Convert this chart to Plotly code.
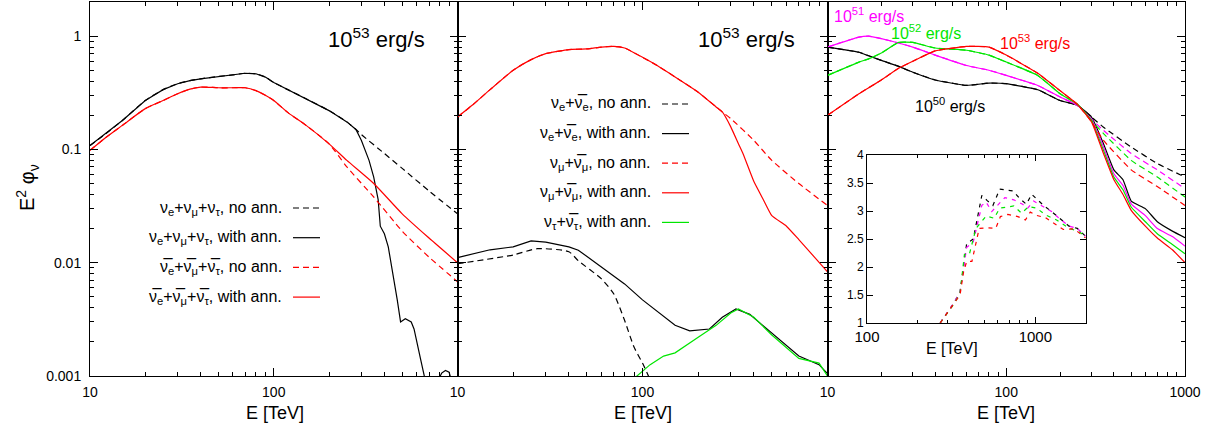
import plotly.graph_objects as go

# ---------------- Panel 1 (10^53 erg/s, flavour sums) ----------------
p1_nu_E = [10, 12, 15, 20, 25, 30, 35, 40, 50, 60, 70, 80, 90, 100, 120, 150, 200, 250, 280]
p1_nu = [0.108, 0.135, 0.18, 0.27, 0.337, 0.38, 0.405, 0.42, 0.44, 0.455, 0.47, 0.465, 0.435, 0.39, 0.335, 0.28, 0.22, 0.175, 0.15]
p1_nu_ann_E = [300, 330, 350, 370, 380, 400, 420, 440, 470, 490, 520, 560, 580, 630, 680, 780, 820, 860, 900, 930]
p1_nu_ann = [0.12, 0.08, 0.057, 0.036, 0.021, 0.018, 0.0138, 0.0091, 0.0047, 0.003, 0.0032, 0.003, 0.0026, 0.0014, 0.0008,
             0.0009, 0.00106, 0.00112, 0.00108, 0.0009]
p1_nu_noann_E = [300, 400, 500, 700, 1000]
p1_nu_noann = [0.135, 0.092, 0.068, 0.043, 0.027]
p1_anu_E = [10, 12, 15, 20, 25, 30, 35, 40, 50, 60, 70, 80, 90, 100, 120, 150, 200]
p1_anu = [0.098, 0.125, 0.163, 0.229, 0.27, 0.31, 0.34, 0.355, 0.35, 0.35, 0.35, 0.33, 0.30, 0.27, 0.21, 0.163, 0.112]
p1_anu_ann_E = [250, 350, 500, 700, 1000]
p1_anu_ann = [0.08, 0.05, 0.027, 0.0165, 0.010]
p1_anu_noann_E = [250, 350, 500, 700, 1000]
p1_anu_noann = [0.07, 0.038, 0.019, 0.0112, 0.0068]

# ---------------- Panel 2 (10^53 erg/s, per flavour) ----------------
p2_mu_E = [10, 12, 15, 20, 25, 30, 40, 50, 60, 70, 80, 100, 120, 150, 200, 250, 270]
p2_mu = [0.193, 0.245, 0.337, 0.50, 0.62, 0.70, 0.76, 0.77, 0.80, 0.81, 0.785, 0.65, 0.55, 0.436, 0.32, 0.237, 0.214]
p2_mu_ann_E = [300, 330, 350, 400, 450, 500, 600, 700, 850, 1000]
p2_mu_ann = [0.158, 0.112, 0.091, 0.052, 0.036, 0.026, 0.021, 0.016, 0.0112, 0.0083]
p2_mu_noann_E = [300, 400, 500, 700, 1000]
p2_mu_noann = [0.187, 0.12, 0.08, 0.05, 0.032]
p2_e_ann_E = [10, 15, 20, 25, 30, 40, 45, 60, 80, 100, 150, 180, 230, 270, 320, 380, 500, 700, 900, 1000]
p2_e_ann = [0.0111, 0.013, 0.0138, 0.0156, 0.0152, 0.0138, 0.0129, 0.0092, 0.0065, 0.0047, 0.0028, 0.0025, 0.0026,
            0.0033, 0.0039, 0.0035, 0.0024, 0.0015, 0.00126, 0.00105]
p2_e_noann_E = [10, 20, 27, 40, 45, 60, 70, 80, 90, 100, 108, 115]
p2_e_noann = [0.0098, 0.0117, 0.0133, 0.0125, 0.0104, 0.0072, 0.0053, 0.0031, 0.0018, 0.0013, 0.00099, 0.0008]
p2_tau_ann_E = [90, 100, 110, 130, 150, 200, 250, 300, 330, 400, 500, 700, 900, 1000]
p2_tau_ann = [0.00095, 0.0011, 0.00126, 0.0015, 0.0016, 0.0022, 0.0028, 0.0036, 0.0039, 0.0033, 0.0023, 0.00143, 0.0013, 0.001]

# ---------------- Panel 3 (luminosity dependence) ----------------
p3_E = [10, 15, 17, 20, 25, 30, 40, 60, 80, 100, 150, 200, 250, 300, 350, 400, 450, 500, 600, 700, 850, 1000]
p3_L50 = [0.80, 0.72, 0.67, 0.61, 0.54, 0.48, 0.41, 0.367, 0.385, 0.38, 0.336, 0.27, 0.245, 0.193, 0.112, 0.066, 0.054, 0.035, 0.030, 0.023, 0.019, 0.0166]
p3_L51 = [0.80, 0.98, 1.0, 0.95, 0.87, 0.80, 0.68, 0.55, 0.50, 0.45, 0.367, 0.29, 0.245, 0.185, 0.105, 0.061, 0.048, 0.033, 0.026, 0.020, 0.017, 0.014]
p3_L52 = [0.45, 0.59, 0.63, 0.71, 0.88, 0.88, 0.785, 0.75, 0.68, 0.59, 0.45, 0.31, 0.25, 0.18, 0.098, 0.057, 0.044, 0.031, 0.023, 0.018, 0.0145, 0.012]
p3_L53 = [0.20, 0.31, 0.35, 0.41, 0.52, 0.60, 0.74, 0.81, 0.80, 0.68, 0.47, 0.33, 0.25, 0.175, 0.092, 0.054, 0.040, 0.029, 0.021, 0.0165, 0.013, 0.010]
p3_noann_E = [350, 500, 700, 1000]
p3_L50_noann = [0.157, 0.105, 0.075, 0.057]
p3_L51_noann = [0.147, 0.092, 0.066, 0.045]
p3_L52_noann = [0.138, 0.080, 0.057, 0.038]
p3_L53_noann = [0.120, 0.066, 0.047, 0.032]

# ---------------- Inset (ratio no ann. / with ann.) ----------------
ins_L50_E = [272, 327, 357, 374, 391, 428, 458, 481, 516, 560, 614, 735, 816, 885, 951, 1119, 1248, 1384, 1585, 1774, 1986]
ins_L50 = [1.0, 1.35, 1.55, 2.03, 2.42, 2.5, 2.95, 3.28, 3.19, 3.1, 3.39, 3.36, 3.21, 3.12, 3.30, 3.10, 2.99, 2.87, 2.73, 2.69, 2.55]
ins_L51_E = [272, 327, 357, 374, 391, 428, 458, 481, 510, 551, 659, 745, 841, 900, 977, 1119, 1248, 1384, 1585, 1774, 1986]
ins_L51 = [1.0, 1.35, 1.55, 2.0, 2.35, 2.45, 2.85, 3.1, 3.16, 2.99, 3.24, 3.2, 3.12, 3.05, 3.18, 3.08, 2.99, 2.87, 2.73, 2.69, 2.55]
ins_L52_E = [272, 327, 357, 379, 405, 444, 510, 569, 614, 745, 828, 912, 1019, 1148, 1337, 1570, 1840, 1986]
ins_L52 = [1.0, 1.33, 1.53, 2.22, 2.22, 2.69, 2.91, 2.87, 3.05, 3.09, 2.96, 3.08, 3.05, 2.93, 2.84, 2.70, 2.62, 2.55]
ins_L53_E = [272, 320, 357, 374, 391, 420, 440, 464, 517, 582, 620, 687, 787, 873, 933, 1019, 1150, 1297, 1466, 1700, 1986]
ins_L53 = [1.0, 1.3, 1.5, 1.9, 2.1, 2.1, 2.4, 2.69, 2.70, 2.69, 2.9, 2.94, 2.9, 2.84, 2.98, 2.92, 2.88, 2.78, 2.67, 2.68, 2.52]

y_tickvals = [0.001, 0.01, 0.1, 1]
y_ticktext = ["0.001", "0.01", "0.1", "1"]

BLACK = "black"
RED = "#ff0000"
GREEN = "#00e600"
MAGENTA = "#ff00ff"
DASH = "6px,4px"
FONT = "Liberation Sans, Arial, sans-serif"

fig = go.Figure()


def line(x, y, color, dash=None, xa="x", ya="y", width=1.2, smooth=0.6):
    fig.add_trace(go.Scatter(x=x, y=y, mode="lines", xaxis=xa, yaxis=ya, showlegend=False,
                             hoverinfo="skip", line_shape="spline",
                             line=dict(color=color, width=width, dash=dash or "solid", smoothing=smooth)))


def jag(x, y, color, dash, xa, ya, width=1.2):
    fig.add_trace(go.Scatter(x=x, y=y, mode="lines", xaxis=xa, yaxis=ya, showlegend=False,
                             hoverinfo="skip",
                             line=dict(color=color, width=width, dash=dash or "solid")))


# Panel 1
line(p1_nu_E + p1_nu_noann_E, p1_nu + p1_nu_noann, BLACK, DASH, "x", "y")
jag(p1_nu_E + p1_nu_ann_E, p1_nu + p1_nu_ann, BLACK, None, "x", "y")
line(p1_anu_E + p1_anu_noann_E, p1_anu + p1_anu_noann, RED, DASH, "x", "y")
line(p1_anu_E + p1_anu_ann_E, p1_anu + p1_anu_ann, RED, None, "x", "y")

# Panel 2
line(p2_e_noann_E, p2_e_noann, BLACK, DASH, "x2", "y2")
jag(p2_e_ann_E, p2_e_ann, BLACK, None, "x2", "y2")
line(p2_mu_E + p2_mu_noann_E, p2_mu + p2_mu_noann, RED, DASH, "x2", "y2")
line(p2_mu_E + p2_mu_ann_E, p2_mu + p2_mu_ann, RED, None, "x2", "y2", smooth=0.4)
jag(p2_tau_ann_E, p2_tau_ann, GREEN, None, "x2", "y2")

# Panel 3
base_n = p3_E.index(300) + 1
for vals, noann, col in [(p3_L50, p3_L50_noann, BLACK), (p3_L51, p3_L51_noann, MAGENTA),
                         (p3_L52, p3_L52_noann, GREEN), (p3_L53, p3_L53_noann, RED)]:
    line(p3_E[:base_n] + p3_noann_E, vals[:base_n] + noann, col, DASH, "x3", "y3", smooth=0.4)
    line(p3_E, vals, col, None, "x3", "y3", smooth=0.4)

# Inset
for xs, ys, col in [(ins_L50_E, ins_L50, BLACK), (ins_L51_E, ins_L51, MAGENTA),
                    (ins_L52_E, ins_L52, GREEN), (ins_L53_E, ins_L53, RED)]:
    jag(xs, ys, col, "4px,5px", "x4", "y4")

# ---------------- layout ----------------
L, R, T, B = 90, 29, 2, 58
W, H = 1214, 434
PW, PH = W - L - R, H - T - B


def px(xp):
    return (xp - L) / PW


def py(yp):
    return (H - B - yp) / PH


minor_dec = [m * 10 ** k for k in range(0, 4) for m in range(2, 10)]
minor_y = [m * 10.0 ** k for k in range(-3, 1) for m in range(2, 10)]

axis_common = dict(showline=True, linecolor="black", linewidth=1, mirror="allticks", ticks="inside",
                   ticklen=8, tickwidth=1, tickcolor="black", showgrid=False, zeroline=False,
                   automargin=False,
                   tickfont=dict(size=14, color="black", family=FONT))

xbase = dict(axis_common, type="log", range=[1, 3], ticklabelstandoff=3,
             minor=dict(ticks="inside", ticklen=4, tickcolor="black", tickmode="array",
                        tickvals=minor_dec, showgrid=False))
ybase = dict(axis_common, type="log", range=[-3, 0.301], ticklabelstandoff=5,
             tickmode="array", tickvals=y_tickvals, ticktext=y_ticktext,
             minor=dict(ticks="inside", ticklen=4, tickcolor="black", tickmode="array",
                        tickvals=minor_y, showgrid=False))

d1 = [0, px(457.5)]
d2 = [px(457.5), px(827.5)]
d3 = [px(827.5), 1]

fig.update_layout(
    template="none",
    width=W, height=H, margin=dict(l=L, r=R, t=T, b=B, autoexpand=False),
    paper_bgcolor="white", plot_bgcolor="white",
    font=dict(family=FONT, color="black"),
    xaxis=dict(xbase, domain=d1, anchor="y", tickmode="array", tickvals=[10, 100],
               ticktext=["10", "100"]),
    xaxis2=dict(xbase, domain=d2, anchor="y2", tickmode="array", tickvals=[10, 100],
                ticktext=["10", "100"]),
    xaxis3=dict(xbase, domain=d3, anchor="y3", tickmode="array", tickvals=[10, 100, 1000],
                ticktext=["10", "100", "1000"]),
    yaxis=dict(ybase, domain=[0, 1], anchor="x"),
    yaxis2=dict(ybase, domain=[0, 1], anchor="x2", showticklabels=False),
    yaxis3=dict(ybase, domain=[0, 1], anchor="x3", showticklabels=False),
    xaxis4=dict(axis_common, type="log", range=[2, 3.301], domain=[px(867), px(1086)], anchor="y4",
                tickmode="array", tickvals=[100, 1000], ticktext=["100", "1000"], ticklen=6,
                tickfont=dict(size=15, color="black", family=FONT),
                minor=dict(ticks="inside", ticklen=3, tickcolor="black", tickmode="array",
                           tickvals=minor_dec, showgrid=False)),
    yaxis4=dict(axis_common, type="linear", range=[1, 4], domain=[py(323), py(155)], anchor="x4",
                tickmode="linear", tick0=1, dtick=0.5, ticklen=6,
                tickfont=dict(size=12, color="black", family=FONT)),
)

ann = []


def text(x, y, s, size=16, color="black", xanchor="center", yanchor="middle", angle=0):
    ann.append(dict(x=px(x), y=py(y), xref="paper", yref="paper", text=s, showarrow=False,
                    xanchor=xanchor, yanchor=yanchor, textangle=angle,
                    font=dict(size=size, color=color, family=FONT)))


# axis titles
text(275, 413, "E [TeV]", 18)
text(643, 413, "E [TeV]", 18)
text(1006, 413, "E [TeV]", 18)
text(952, 348, "E [TeV]", 16)
text(27, 188, "E<sup>2</sup> φ<sub>ν</sub>", 20, angle=-90)

# panel labels
text(427, 38, "10<sup>53</sup> erg/s", 22, xanchor="right")
text(797, 38, "10<sup>53</sup> erg/s", 22, xanchor="right")
text(832, 15, "10<sup>51</sup> erg/s", 16, MAGENTA, xanchor="left")
text(889, 32, "10<sup>52</sup> erg/s", 16, GREEN, xanchor="left")
text(998, 42, "10<sup>53</sup> erg/s", 16, RED, xanchor="left")
text(913, 105, "10<sup>50</sup> erg/s", 16, BLACK, xanchor="left")

NB = "ν\u0305"
shapes = []


def key(xt, x0, x1, y, label, color, dash):
    text(xt, y, label, 16, xanchor="right")
    shapes.append(dict(type="line", xref="paper", yref="paper", x0=px(x0), x1=px(x1), y0=py(y), y1=py(y),
                       line=dict(color=color, width=1.2, dash=dash or "solid")))


leg1 = [
    ("ν<sub>e</sub>+ν<sub>μ</sub>+ν<sub>τ</sub>, no ann.", BLACK, DASH),
    ("ν<sub>e</sub>+ν<sub>μ</sub>+ν<sub>τ</sub>, with ann.", BLACK, None),
    (NB + "<sub>e</sub>+" + NB + "<sub>μ</sub>+" + NB + "<sub>τ</sub>, no ann.", RED, DASH),
    (NB + "<sub>e</sub>+" + NB + "<sub>μ</sub>+" + NB + "<sub>τ</sub>, with ann.", RED, None),
]
for i, (lab, col, dsh) in enumerate(leg1):
    key(284, 293, 320, 208 + 29.7 * i, lab, col, dsh)

leg2 = [
    ("ν<sub>e</sub>+" + NB + "<sub>e</sub>, no ann.", BLACK, DASH),
    ("ν<sub>e</sub>+" + NB + "<sub>e</sub>, with ann.", BLACK, None),
    ("ν<sub>μ</sub>+" + NB + "<sub>μ</sub>, no ann.", RED, DASH),
    ("ν<sub>μ</sub>+" + NB + "<sub>μ</sub>, with ann.", RED, None),
    ("ν<sub>τ</sub>+" + NB + "<sub>τ</sub>, with ann.", GREEN, None),
]
for i, (lab, col, dsh) in enumerate(leg2):
    key(653, 662, 689, 104 + 29.6 * i, lab, col, dsh)

fig.update_layout(annotations=ann, shapes=shapes)

fig.write_html("out.html", config={"displayModeBar": False},
               post_script="document.body.style.margin='0';document.body.style.overflow='hidden';")
